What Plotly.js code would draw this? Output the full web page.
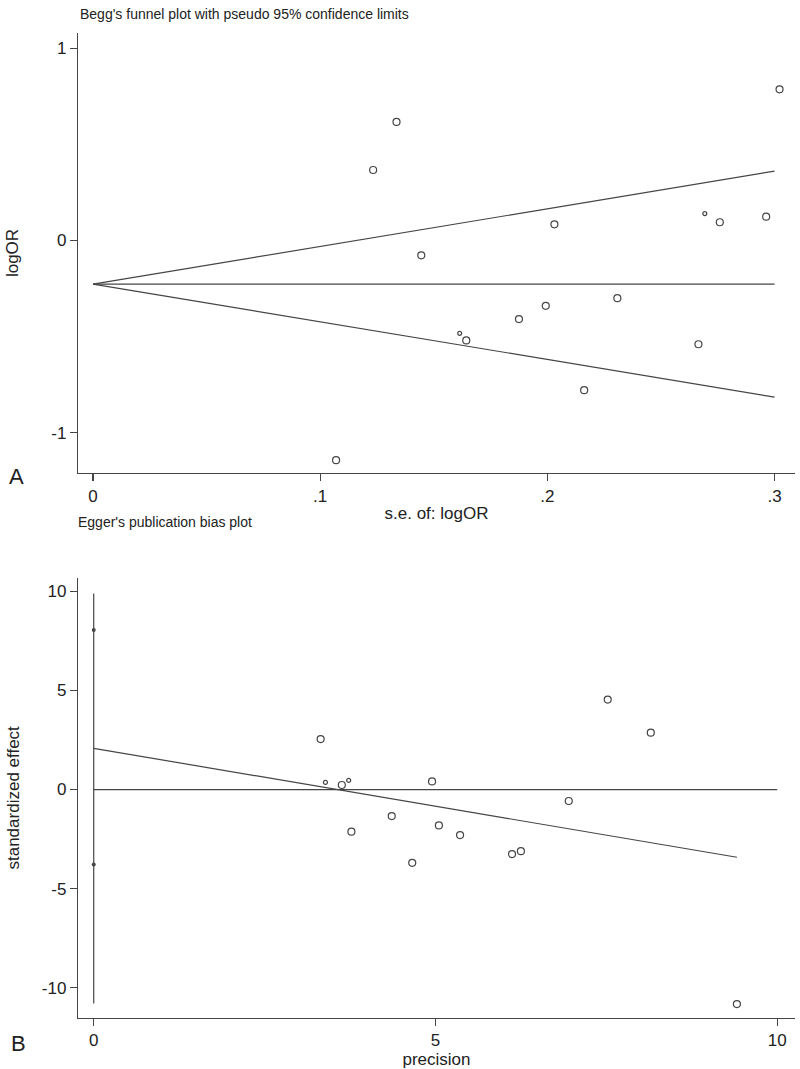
<!DOCTYPE html>
<html>
<head>
<meta charset="utf-8">
<script src="https://cdn.plot.ly/plotly-3.0.1.min.js"></script>
<style>
  html, body { margin: 0; padding: 0; background: #fff; }
  #chart { width: 800px; height: 1069px; }
</style>
</head>
<body>
<div id="chart"></div>
<script>
// Panel A - Begg's funnel plot (s.e. of logOR vs logOR)
const beggSe     = [0.107, 0.1233, 0.1336, 0.1445, 0.1643, 0.1875, 0.1993, 0.2031, 0.2162, 0.2308, 0.2665, 0.2759, 0.2963, 0.3022];
const beggLogOR  = [-1.143, 0.367, 0.617, -0.077, -0.52, -0.409, -0.34, 0.084, -0.779, -0.30, -0.54, 0.095, 0.124, 0.787];
// two studies drawn with the smaller marker
const beggSmallSe    = [0.1614, 0.2693];
const beggSmallLogOR = [-0.483, 0.14];
// pooled estimate and pseudo 95% limits
const limitSe     = [0, 0.3];
const pooledLine  = [-0.227, -0.227];
const upperLimit  = [-0.227, 0.361];
const lowerLimit  = [-0.227, -0.815];

// Panel B - Egger's publication bias plot (precision vs standardized effect)
const eggPrecision = [3.32, 3.63, 3.77, 4.36, 4.66, 4.95, 5.05, 5.36, 6.12, 6.25, 6.95, 7.52, 8.15, 9.41];
const eggEffect    = [2.55, 0.23, -2.13, -1.34, -3.70, 0.41, -1.81, -2.30, -3.26, -3.11, -0.58, 4.54, 2.87, -10.83];
const eggSmallPrecision = [3.39, 3.73];
const eggSmallEffect    = [0.36, 0.46];
// fitted regression line, zero line and intercept CI
const fitPrecision = [0, 9.41];
const fitEffect    = [2.08, -3.42];
const zeroPrecision = [0, 10];
const zeroEffect    = [0, 0];
const ciPrecision = [0, 0];
const ciEffect    = [-10.8, 9.9];
const ciMarks     = [8.06, -3.78];

const ink = '#454545';
const font = 'Liberation Sans, Arial, sans-serif';

const line = (x, y, xa, ya) => ({
  x, y, xaxis: xa, yaxis: ya, type: 'scatter', mode: 'lines',
  line: { color: ink, width: 1.2 }, hoverinfo: 'skip'
});
const dots = (x, y, xa, ya, size) => ({
  x, y, xaxis: xa, yaxis: ya, type: 'scatter', mode: 'markers',
  marker: { symbol: 'circle-open', size: size, color: ink, line: { width: 1.2, color: ink } }
});

const traces = [
  line(limitSe, pooledLine, 'x', 'y'),
  line(limitSe, upperLimit, 'x', 'y'),
  line(limitSe, lowerLimit, 'x', 'y'),
  dots(beggSe, beggLogOR, 'x', 'y', 7),
  dots(beggSmallSe, beggSmallLogOR, 'x', 'y', 4),

  line(zeroPrecision, zeroEffect, 'x2', 'y2'),
  line(fitPrecision, fitEffect, 'x2', 'y2'),
  line(ciPrecision, ciEffect, 'x2', 'y2'),
  {
    x: ciPrecision, y: ciMarks, xaxis: 'x2', yaxis: 'y2', type: 'scatter', mode: 'markers',
    marker: { symbol: 'circle', size: 4, color: ink }
  },
  dots(eggPrecision, eggEffect, 'x2', 'y2', 7),
  dots(eggSmallPrecision, eggSmallEffect, 'x2', 'y2', 4)
];

const titleFont = { family: font, size: 17, color: '#222' };
const axisBase = {
  showline: true, linecolor: ink, linewidth: 1.2,
  ticks: 'outside', ticklen: 7, tickwidth: 1.2, tickcolor: ink,
  showgrid: false, zeroline: false, fixedrange: true,
  tickfont: { family: font, size: 17, color: '#222' }
};

const layout = {
  width: 800, height: 1069,
  margin: { l: 0, r: 0, t: 0, b: 0 },
  paper_bgcolor: '#fff', plot_bgcolor: '#fff',
  showlegend: false,
  xaxis: Object.assign({}, axisBase, {
    domain: [78 / 800, 795 / 800], anchor: 'y',
    range: [-0.0066, 0.309],
    tickvals: [0, 0.1, 0.2, 0.3], ticktext: ['0', '.1', '.2', '.3'],
    title: { text: 's.e. of: logOR', standoff: 2, font: titleFont }
  }),
  yaxis: Object.assign({}, axisBase, {
    domain: [1 - 473 / 1069, 1 - 33 / 1069], anchor: 'x',
    range: [-1.21, 1.08],
    tickvals: [-1, 0, 1], ticktext: ['-1', '0', '1'],
    title: { text: 'logOR', standoff: 28, font: titleFont }
  }),
  xaxis2: Object.assign({}, axisBase, {
    domain: [78 / 800, 795 / 800], anchor: 'y2',
    range: [-0.23, 10.26],
    tickvals: [0, 5, 10], ticktext: ['0', '5', '10'],
    title: { text: 'precision', standoff: 3, font: titleFont }
  }),
  yaxis2: Object.assign({}, axisBase, {
    domain: [1 - 1017.7 / 1069, 1 - 578 / 1069], anchor: 'x2',
    range: [-11.52, 10.68],
    tickvals: [-10, -5, 0, 5, 10], ticktext: ['-10', '-5', '0', '5', '10'],
    title: { text: 'standardized effect', standoff: 17, font: titleFont }
  }),
  annotations: [
    { text: "Begg's funnel plot with pseudo 95% confidence limits", xref: 'paper', yref: 'paper',
      x: 78 / 800, y: 1 - 14 / 1069, xanchor: 'left', yanchor: 'middle', showarrow: false,
      font: { family: font, size: 14, color: '#222' } },
    { text: "Egger's publication bias plot", xref: 'paper', yref: 'paper',
      x: 76 / 800, y: 1 - 522 / 1069, xanchor: 'left', yanchor: 'middle', showarrow: false,
      font: { family: font, size: 14, color: '#222' } },
    { text: 'A', xref: 'paper', yref: 'paper', x: 16 / 800, y: 1 - 476 / 1069,
      xanchor: 'center', yanchor: 'middle', showarrow: false,
      font: { family: font, size: 22, color: '#222' } },
    { text: 'B', xref: 'paper', yref: 'paper', x: 18 / 800, y: 1 - 1043 / 1069,
      xanchor: 'center', yanchor: 'middle', showarrow: false,
      font: { family: font, size: 22, color: '#222' } }
  ]
};

Plotly.newPlot('chart', traces, layout, { displayModeBar: false, staticPlot: true });
</script>
</body>
</html>
